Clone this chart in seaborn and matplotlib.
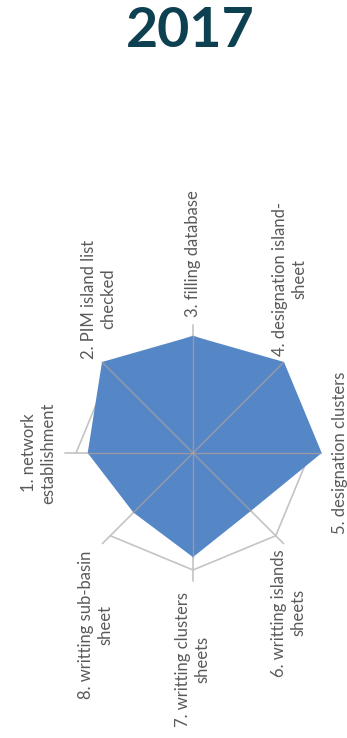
import numpy as np
import matplotlib
matplotlib.use("Agg")
import matplotlib.pyplot as plt
import seaborn as sns

# ── data ─────────────────────────────────────────────
labels = [
    "1. network\nestablishment",
    "2. PIM island list\nchecked",
    "3. filling database",
    "4. designation island-\nsheet",
    "5. designation clusters",
    "6. writting islands\nsheets",
    "7. writting clusters\nsheets",
    "8. writting sub-basin\nsheet",
]
values = [0.90, 1.10, 1.00, 1.10, 1.10, 0.70, 0.89, 0.72]
ring_level = 1.0
axis_max = 1.1
title = "2017"

# ── style ────────────────────────────────────────────
sns.set_theme(style="white")
plt.rcParams["font.family"] = ["Lato", "DejaVu Sans"]

fill_col = "#5586C6"
grid_col = "#C4C4C4"
inner_col = "#B2A29A"
text_col = "#5A5A5A"

n = len(labels)
theta = np.arange(n) * 2 * np.pi / n
theta_c = np.append(theta, theta[0])
vals_c = np.append(values, values[0])

fig = plt.figure(figsize=(3.47, 7.38), dpi=100)
R = axis_max * 117  # pixels for axis_max
cx, cy = 193, 453
ax = fig.add_axes([(cx - R) / 347, (738 - cy - R) / 738, 2 * R / 347, 2 * R / 738],
                  projection="polar")
ax.set_theta_offset(np.pi)
ax.set_theta_direction(-1)
ax.set_ylim(0, axis_max)
ax.grid(False)
ax.spines["polar"].set_visible(False)
ax.set_xticks([])
ax.set_yticks([])
ax.patch.set_alpha(0)

# outer ring + spokes (behind the polygon)
sns.lineplot(x=theta_c, y=np.full(n + 1, ring_level), sort=False, ax=ax,
             color=grid_col, linewidth=1.2, zorder=1)
for t in theta:
    ax.plot([t, t], [0, axis_max], color=grid_col, linewidth=1.2, zorder=1)

# filled area
ax.fill(theta_c, vals_c, color=fill_col, linewidth=0, zorder=2)

# spokes seen through the fill
for t, v in zip(theta, values):
    ax.plot([t, t], [0, v], color=inner_col, linewidth=1.0, alpha=0.7, zorder=3)

# category labels (rotated)
lab_r = [1.17, 1.14, 1.16, 1.17, 1.19, 1.16, 1.19, 1.18]
for t, lab, r in zip(theta, labels, lab_r):
    x = -np.cos(t)
    y = np.sin(t)
    if abs(y) < 0.1:
        ha = "right" if x < 0 else "left"
        va = "center"
    else:
        ha = "center"
        va = "bottom" if y > 0 else "top"
    ax.text(t, r, lab, rotation=90, ha=ha, va=va, multialignment="center",
            fontsize=12, color=text_col, linespacing=1.25, zorder=4)

fig.text(190 / 347, 1 - 31 / 738, title, ha="center", va="center",
         fontsize=40, fontweight="bold", color="#0D4050")

fig.savefig("out.png", dpi=100)
